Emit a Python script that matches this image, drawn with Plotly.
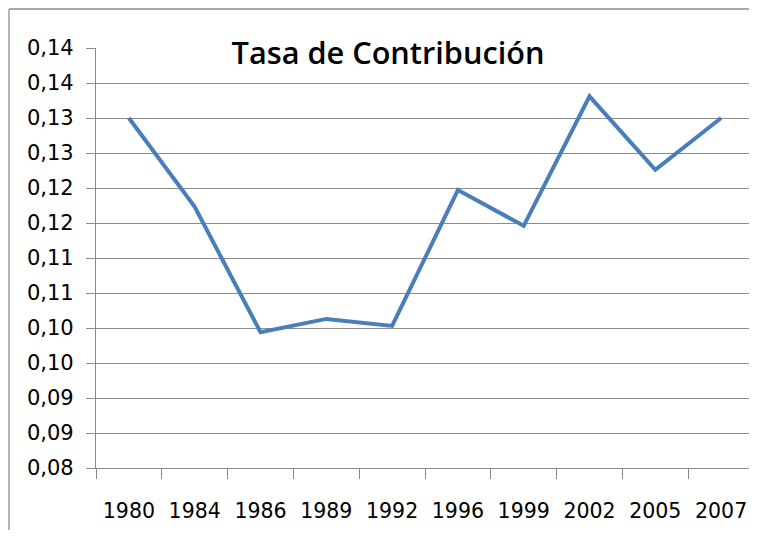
import plotly.graph_objects as go

# Data
years = ['1980', '1984', '1986', '1989', '1992', '1996', '1999', '2002', '2005', '2007']
tasa = [0.1300, 0.1173, 0.0994, 0.1013, 0.1003, 0.1197, 0.1146, 0.1331, 0.1226, 0.1300]

# Excel-style y ticks: every 0.005, labels rounded to two decimals
y_tickvals = [0.080, 0.085, 0.090, 0.095, 0.100, 0.105, 0.110, 0.115, 0.120, 0.125, 0.130, 0.135, 0.140]
y_ticktext = ['0,08', '0,09', '0,09', '0,10', '0,10', '0,11', '0,11', '0,12', '0,12', '0,13', '0,13', '0,14', '0,14']

grey = '#8c8c8c'

fig = go.Figure()

fig.add_trace(go.Scatter(
    x=years,
    y=tasa,
    mode='lines',
    line=dict(color='#4a7ebb', width=4),
    showlegend=False,
))

# the page body has an 8px margin; keep the figure small enough to avoid scrollbars
off = 8
W, H = 757 - off, 538 - 2 * off
# plot area in window pixels: x 96..757, y 48..468
ml, mr, mt = 96 - off, 0, 48 - off
mb = H - (468 - off)
pw, ph = W - ml - mr, H - mt - mb

# category width slightly narrowed so the last label stays inside the visible page
cat_w = 65.8
x_end = pw / cat_w - 0.5

fig.update_layout(
    width=W,
    height=H,
    margin=dict(l=ml, r=mr, t=mt, b=mb),
    paper_bgcolor='white',
    plot_bgcolor='white',
    title=dict(
        text='Tasa de Contribución',
        font=dict(family='Open Sans', size=30.7, color='black', weight=600),
        x=(388 - off) / W,
        xanchor='center',
        xref='container',
        y=1 - (53 - off) / H,
        yanchor='middle',
        yref='container',
    ),
    font=dict(family='DejaVu Sans', color='black'),
)

fig.update_xaxes(
    type='category',
    range=[-0.5, x_end],
    showgrid=False,
    showline=True,
    linecolor=grey,
    linewidth=1.3,
    ticks='outside',
    tickson='boundaries',
    ticklen=10,
    tickcolor=grey,
    tickwidth=1.3,
    tickfont=dict(size=20.5, family='DejaVu Sans', color='black'),
    ticklabelstandoff=24,
)

fig.update_yaxes(
    range=[0.080, 0.140],
    tickvals=y_tickvals,
    ticktext=y_ticktext,
    showgrid=True,
    gridcolor=grey,
    gridwidth=1.3,
    zeroline=False,
    showline=True,
    linecolor=grey,
    linewidth=1.3,
    ticks='outside',
    ticklen=9,
    tickcolor=grey,
    tickwidth=1.3,
    tickfont=dict(size=21, family='DejaVu Sans', color='black'),
    ticklabelstandoff=8,
)

# outer chart frame (top and left edges visible in the reference)
fx = (9 - off - ml) / pw
fy = (H - mb - (9 - off)) / ph
fig.add_shape(type='line', xref='paper', yref='paper', x0=fx, x1=1.2, y0=fy, y1=fy,
              line=dict(color=grey, width=1.3))
fig.add_shape(type='line', xref='paper', yref='paper', x0=fx, x1=fx, y0=fy, y1=-0.3,
              line=dict(color=grey, width=1.3))

fig.write_html("out.html")
